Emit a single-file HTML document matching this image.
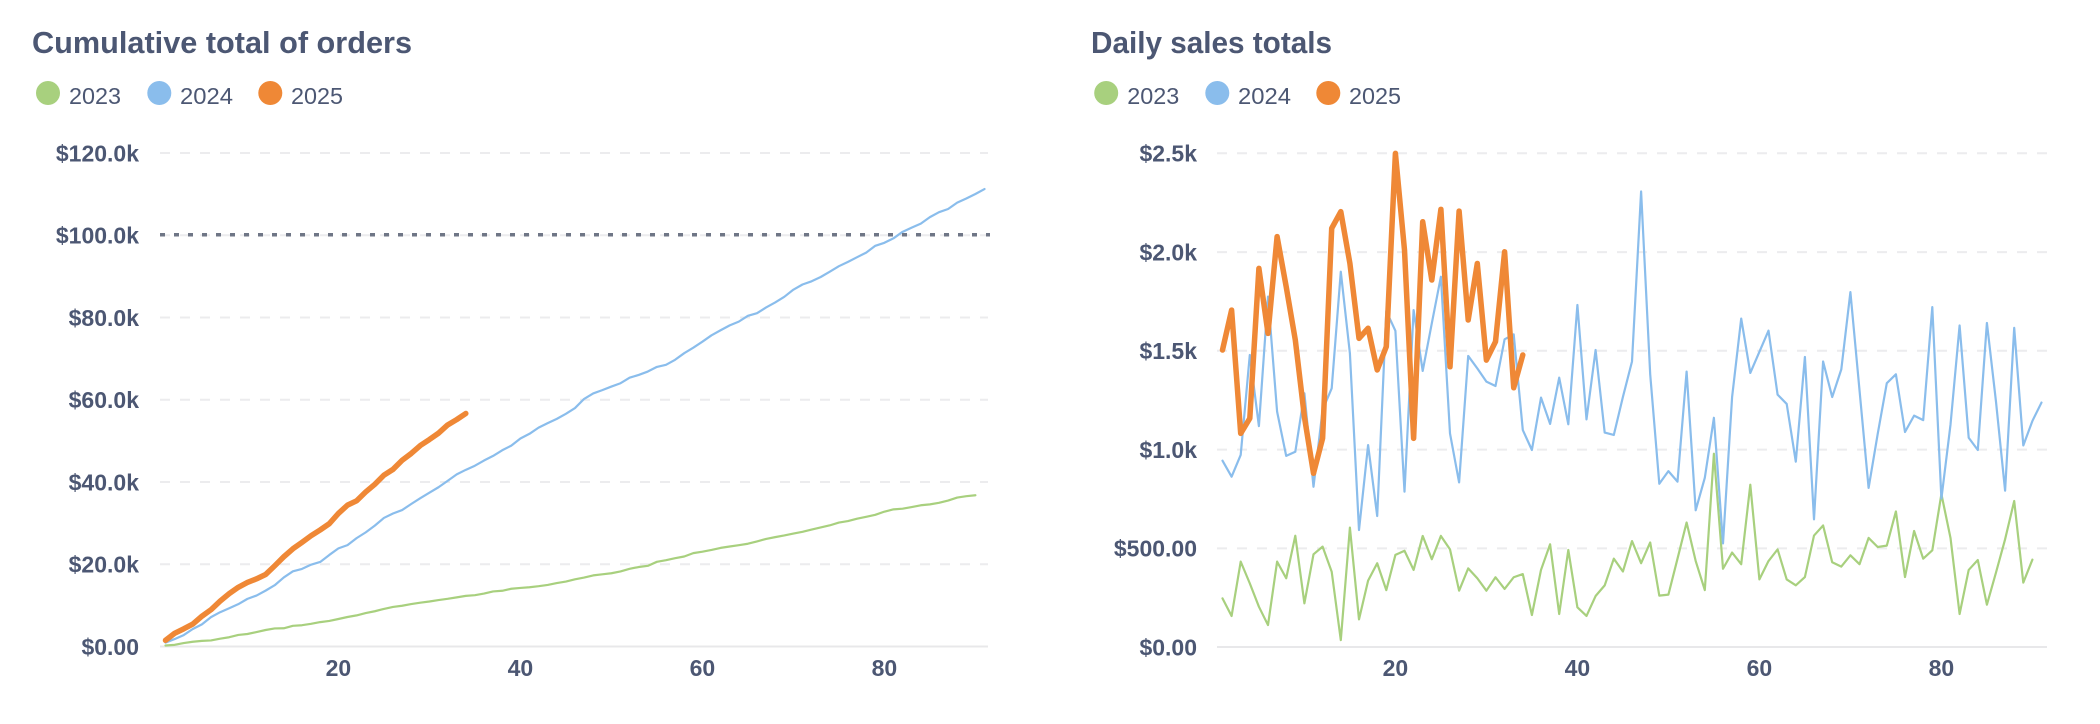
<!DOCTYPE html>
<html>
<head>
<meta charset="utf-8">
<style>
  html, body { margin:0; padding:0; background:#ffffff; }
  body { width:2100px; height:724px; overflow:hidden; }
  svg { display:block; }
  text { font-family: "Liberation Sans", Arial, sans-serif; fill:#4C5773; }
  .title { font-size:31px; font-weight:700; }
  .leg { font-size:23px; font-weight:400; }
  .yl { font-size:23px; font-weight:700; text-anchor:end; }
  .xl { font-size:23px; font-weight:700; text-anchor:middle; }
  .grid { stroke:#ECECEE; stroke-width:2; stroke-dasharray:10 10; fill:none; }
  .base { stroke:#E8E8EA; stroke-width:2; fill:none; }
  .ser { fill:none; stroke-linejoin:round; stroke-linecap:round; vector-effect:non-scaling-stroke; }
</style>
</head>
<body>
<svg width="2100" height="724" viewBox="0 0 2100 724" xmlns="http://www.w3.org/2000/svg">

  <!-- ================= LEFT CHART ================= -->
  <text class="title" x="32" y="53" textLength="380" lengthAdjust="spacingAndGlyphs">Cumulative total of orders</text>

  <circle cx="48" cy="93" r="12" fill="#A8D07E"/>
  <text class="leg" x="69" y="104" textLength="52" lengthAdjust="spacingAndGlyphs">2023</text>
  <circle cx="159.3" cy="93" r="12" fill="#8ABDEC"/>
  <text class="leg" x="180" y="104" textLength="53" lengthAdjust="spacingAndGlyphs">2024</text>
  <circle cx="270.3" cy="93" r="12" fill="#EF8836"/>
  <text class="leg" x="291" y="104" textLength="52" lengthAdjust="spacingAndGlyphs">2025</text>

  <!-- grid -->
  <line class="grid" x1="160" y1="153" x2="988" y2="153"/>
  <line class="grid" x1="160" y1="235.2" x2="988" y2="235.2"/>
  <line class="grid" x1="160" y1="317.5" x2="988" y2="317.5"/>
  <line class="grid" x1="160" y1="399.7" x2="988" y2="399.7"/>
  <line class="grid" x1="160" y1="482" x2="988" y2="482"/>
  <line class="grid" x1="160" y1="564.2" x2="988" y2="564.2"/>
  <line class="base" x1="160" y1="646.5" x2="988" y2="646.5"/>

  <!-- y labels -->
  <text class="yl" x="139" y="161.3">$120.0k</text>
  <text class="yl" x="139" y="243.5">$100.0k</text>
  <text class="yl" x="139" y="325.8">$80.0k</text>
  <text class="yl" x="139" y="408">$60.0k</text>
  <text class="yl" x="139" y="490.3">$40.0k</text>
  <text class="yl" x="139" y="572.5">$20.0k</text>
  <text class="yl" x="139" y="654.8">$0.00</text>

  <!-- x labels -->
  <text class="xl" x="338.4" y="676">20</text>
  <text class="xl" x="520.4" y="676">40</text>
  <text class="xl" x="702.4" y="676">60</text>
  <text class="xl" x="884.4" y="676">80</text>

  <!-- series (cumulative) -->
  <g transform="translate(165.5 646.5) scale(9.1 -4.113)">
    <polyline class="ser" stroke="#A8D07E" stroke-width="2.2" points="0,0.246 1,0.403 2,0.835 3,1.157 4,1.361 5,1.472 6,1.904 7,2.252 8,2.815 9,3.036 10,3.505 11,4.013 12,4.394 13,4.429 14,5.033 15,5.173 16,5.509 17,5.933 18,6.221 19,6.687 20,7.174 21,7.564 22,8.126 23,8.57 24,9.132 25,9.626 26,9.911 27,10.309 28,10.657 29,10.942 30,11.295 31,11.589 32,11.942 33,12.311 34,12.473 35,12.863 36,13.383 37,13.55 38,14.041 39,14.242 40,14.399 41,14.657 42,14.969 43,15.416 44,15.798 45,16.334 46,16.758 47,17.287 48,17.547 49,17.812 50,18.259 51,18.889 52,19.324 53,19.612 54,20.59 55,20.986 56,21.464 57,21.883 58,22.704 59,23.046 60,23.481 61,23.975 62,24.317 63,24.629 64,24.983 65,25.547 66,26.162 67,26.591 68,26.998 69,27.462 70,27.881 71,28.433 72,28.939 73,29.452 74,30.138 75,30.492 76,31.079 77,31.526 78,32.015 79,32.789 80,33.341 81,33.508 82,33.898 83,34.338 84,34.552 85,34.929 86,35.474 87,36.213 88,36.539 89,36.781"/>
    <polyline class="ser" stroke="#8ABDEC" stroke-width="2.2" points="0,0.943 1,1.805 2,2.777 3,4.255 4,5.373 5,7.146 6,8.337 7,9.304 8,10.292 9,11.576 10,12.387 11,13.587 12,14.896 13,16.795 14,18.281 15,18.873 16,19.895 17,20.558 18,22.258 19,23.858 20,24.644 21,26.349 22,27.746 23,29.384 24,31.258 25,32.339 26,33.172 27,34.645 28,36.055 29,37.398 30,38.719 31,40.276 32,41.858 33,42.956 34,43.953 35,45.215 36,46.344 37,47.707 38,48.834 39,50.565 40,51.717 41,53.22 42,54.305 43,55.344 44,56.568 45,57.967 46,60.198 47,61.534 48,62.334 49,63.195 50,64.005 51,65.355 52,66.025 53,66.853 54,67.976 55,68.483 56,69.708 57,71.317 58,72.659 59,74.105 60,75.655 61,76.891 62,78.082 63,78.99 64,80.411 65,81.036 66,82.435 67,83.66 68,85.02 69,86.758 70,88.017 71,88.796 72,89.839 73,91.132 74,92.467 75,93.521 76,94.654 77,95.765 78,97.43 79,98.157 80,99.246 81,100.821 82,101.846 83,102.811 84,104.399 85,105.6 86,106.366 87,107.929 88,108.917 89,110.024 90,111.221"/>
  </g>

  <!-- goal line -->
  <line x1="160" y1="234.8" x2="990" y2="234.8" stroke="#6F7686" stroke-width="3.5" stroke-dasharray="5 9"/>

  <g transform="translate(165.5 646.5) scale(9.1 -4.113)">
    <polyline class="ser" stroke="#EF8836" stroke-width="5.5" points="0,1.503 1,3.208 2,4.289 3,5.446 4,7.362 5,8.949 6,11.026 7,12.846 8,14.4 9,15.565 10,16.444 11,17.5 12,19.619 13,21.822 14,23.763 15,25.325 16,26.938 17,28.34 18,29.86 19,32.358 20,34.367 21,35.423 22,37.575 23,39.432 24,41.647 25,43.065 26,45.271 27,46.926 28,48.867 29,50.319 30,51.864 31,53.864 32,55.176 33,56.654"/>
  </g>

  <!-- ================= RIGHT CHART ================= -->
  <text class="title" x="1091" y="53" textLength="241" lengthAdjust="spacingAndGlyphs">Daily sales totals</text>

  <circle cx="1106.2" cy="93" r="12" fill="#A8D07E"/>
  <text class="leg" x="1127.3" y="104" textLength="52" lengthAdjust="spacingAndGlyphs">2023</text>
  <circle cx="1217.3" cy="93" r="12" fill="#8ABDEC"/>
  <text class="leg" x="1238" y="104" textLength="53" lengthAdjust="spacingAndGlyphs">2024</text>
  <circle cx="1328.3" cy="93" r="12" fill="#EF8836"/>
  <text class="leg" x="1349" y="104" textLength="52" lengthAdjust="spacingAndGlyphs">2025</text>

  <!-- grid -->
  <line class="grid" x1="1217" y1="153.3" x2="2047" y2="153.3"/>
  <line class="grid" x1="1217" y1="252.1" x2="2047" y2="252.1"/>
  <line class="grid" x1="1217" y1="350.8" x2="2047" y2="350.8"/>
  <line class="grid" x1="1217" y1="449.6" x2="2047" y2="449.6"/>
  <line class="grid" x1="1217" y1="548.4" x2="2047" y2="548.4"/>
  <line class="base" x1="1217" y1="647" x2="2047" y2="647"/>

  <!-- y labels -->
  <text class="yl" x="1197" y="161.6">$2.5k</text>
  <text class="yl" x="1197" y="260.4">$2.0k</text>
  <text class="yl" x="1197" y="359.1">$1.5k</text>
  <text class="yl" x="1197" y="457.9">$1.0k</text>
  <text class="yl" x="1197" y="556.7">$500.00</text>
  <text class="yl" x="1197" y="655.3">$0.00</text>

  <!-- x labels -->
  <text class="xl" x="1395.4" y="676">20</text>
  <text class="xl" x="1577.4" y="676">40</text>
  <text class="xl" x="1759.4" y="676">60</text>
  <text class="xl" x="1941.4" y="676">80</text>

  <!-- series (daily) -->
  <g transform="translate(1222.5 647) scale(9.1 -197.6)">
    <polyline class="ser" stroke="#A8D07E" stroke-width="2.2" points="0,0.246 1,0.157 2,0.432 3,0.322 4,0.204 5,0.111 6,0.432 7,0.348 8,0.563 9,0.221 10,0.469 11,0.508 12,0.381 13,0.035 14,0.604 15,0.14 16,0.336 17,0.424 18,0.288 19,0.466 20,0.487 21,0.39 22,0.562 23,0.444 24,0.562 25,0.494 26,0.285 27,0.398 28,0.348 29,0.285 30,0.353 31,0.294 32,0.353 33,0.369 34,0.162 35,0.39 36,0.52 37,0.167 38,0.491 39,0.201 40,0.157 41,0.258 42,0.312 43,0.447 44,0.382 45,0.536 46,0.424 47,0.529 48,0.26 49,0.265 50,0.447 51,0.63 52,0.435 53,0.288 54,0.978 55,0.396 56,0.478 57,0.419 58,0.821 59,0.342 60,0.435 61,0.494 62,0.342 63,0.312 64,0.354 65,0.564 66,0.615 67,0.429 68,0.407 69,0.464 70,0.419 71,0.552 72,0.506 73,0.513 74,0.686 75,0.354 76,0.587 77,0.447 78,0.489 79,0.774 80,0.552 81,0.167 82,0.39 83,0.44 84,0.214 85,0.377 86,0.545 87,0.739 88,0.326 89,0.442"/>
    <polyline class="ser" stroke="#8ABDEC" stroke-width="2.2" points="0,0.943 1,0.862 2,0.972 3,1.478 4,1.118 5,1.773 6,1.191 7,0.967 8,0.988 9,1.284 10,0.811 11,1.2 12,1.309 13,1.899 14,1.486 15,0.592 16,1.022 17,0.663 18,1.7 19,1.6 20,0.786 21,1.705 22,1.397 23,1.638 24,1.874 25,1.081 26,0.833 27,1.473 28,1.41 29,1.343 30,1.321 31,1.557 32,1.582 33,1.098 34,0.997 35,1.262 36,1.129 37,1.363 38,1.127 39,1.731 40,1.152 41,1.503 42,1.085 43,1.073 44,1.265 45,1.445 46,2.305 47,1.38 48,0.826 49,0.89 50,0.837 51,1.394 52,0.692 53,0.856 54,1.16 55,0.524 56,1.265 57,1.662 58,1.387 59,1.494 60,1.601 61,1.277 62,1.23 63,0.938 64,1.468 65,0.646 66,1.445 67,1.265 68,1.405 69,1.796 70,1.3 71,0.805 72,1.078 73,1.335 74,1.38 75,1.088 76,1.171 77,1.148 78,1.72 79,0.751 80,1.125 81,1.627 82,1.059 83,0.997 84,1.64 85,1.241 86,0.791 87,1.615 88,1.02 89,1.144 90,1.237"/>
    <polyline class="ser" stroke="#EF8836" stroke-width="5.5" points="0,1.503 1,1.705 2,1.081 3,1.157 4,1.916 5,1.587 6,2.077 7,1.823 8,1.554 9,1.165 10,0.879 11,1.056 12,2.119 13,2.203 14,1.941 15,1.562 16,1.613 17,1.402 18,1.52 19,2.498 20,2.009 21,1.056 22,2.152 23,1.857 24,2.215 25,1.418 26,2.206 27,1.655 28,1.941 29,1.452 30,1.545 31,2.0 32,1.312 33,1.478"/>
  </g>
</svg>
</body>
</html>
